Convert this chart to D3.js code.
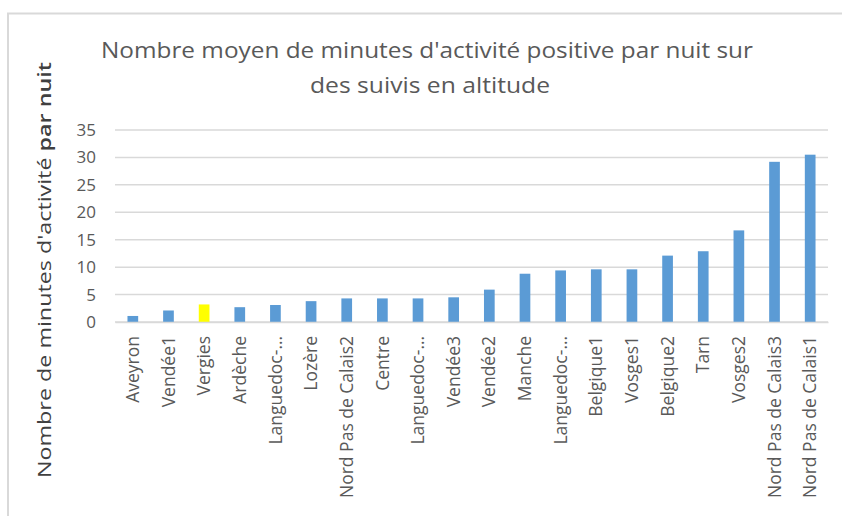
<!DOCTYPE html>
<meta charset="utf-8">
<style>
  body { margin: 0; background: #fff; }
  text { font-family: "Open Sans", "Noto Sans", sans-serif; fill: #595959; }
</style>
<svg width="842" height="516"></svg>
<script src="https://d3js.org/d3.v7.min.js"></script>
<script>

var sites = ["Aveyron", "Vendée1", "Vergies", "Ardèche", "Languedoc-…", "Lozère",
  "Nord Pas de Calais2", "Centre", "Languedoc-…", "Vendée3", "Vendée2", "Manche",
  "Languedoc-…", "Belgique1", "Vosges1", "Belgique2", "Tarn", "Vosges2",
  "Nord Pas de Calais3", "Nord Pas de Calais1"];
var minutes = [1.1, 2.1, 3.2, 2.7, 3.1, 3.8, 4.3, 4.3, 4.3, 4.5, 5.9, 8.8,
  9.4, 9.6, 9.6, 12.1, 12.9, 16.7, 29.2, 30.5];
var highlight = "Vergies";
var yTicks = [0, 5, 10, 15, 20, 25, 30, 35];

var data = sites.map(function(s, i) { return {key: i, name: s, value: minutes[i]}; });

var svg = d3.select("svg"),
    margin = {top: 130, right: 14, bottom: 194, left: 115},
    width = +svg.attr("width") - margin.left - margin.right,
    height = +svg.attr("height") - margin.top - margin.bottom;

// chart area border (top and left edges only visible)
svg.append("path")
    .attr("d", "M8,516 V13.5 H842")
    .style("fill", "none")
    .style("stroke", "#d9d9d9")
    .style("stroke-width", 2);

var x = d3.scaleBand().domain(d3.range(data.length)).range([0, width]).paddingInner(0.7).paddingOuter(0.35);
var y = d3.scaleLinear().domain([0, 35]).range([height, 0]);

var g = svg.append("g").attr("transform", "translate(" + margin.left + "," + margin.top + ")");

// gridlines
g.append("g")
    .selectAll("line")
    .data(yTicks)
    .enter().append("line")
    .attr("x1", 0)
    .attr("x2", width)
    .attr("y1", function(d) { return y(d); })
    .attr("y2", function(d) { return y(d); })
    .style("stroke", "#d9d9d9")
    .style("stroke-width", 1.5);

var yAxis = g.append("g")
    .call(d3.axisLeft(y).tickValues(yTicks).tickSize(0).tickPadding(19));
yAxis.select(".domain").remove();
yAxis.selectAll("text")
    .style("font-size", "17px")
    .style("fill", "#595959")
    .style("font-family", "\"Open Sans\", sans-serif");

g.selectAll(".bar")
    .data(data)
    .enter().append("rect")
    .attr("class", "bar")
    .attr("x", function(d) { return x(d.key); })
    .attr("width", x.bandwidth())
    .attr("y", function(d) { return y(d.value); })
    .attr("height", function(d) { return height - y(d.value); })
    .style("fill", function(d) { return d.name === highlight ? "#ffff00" : "#5b9bd5"; });

var xAxis = g.append("g")
    .attr("transform", "translate(0," + height + ")")
    .call(d3.axisBottom(x).tickSize(0).tickFormat(function(i) { return sites[i]; }));
xAxis.select(".domain").style("stroke", "#d9d9d9").style("stroke-width", 1.5);
xAxis.selectAll("text")
    .attr("transform", "rotate(-90)")
    .attr("x", -14)
    .attr("y", 0)
    .attr("dy", "0.35em")
    .style("text-anchor", "end")
    .style("font-size", "17.5px")
    .style("fill", "#595959")
    .style("font-family", "\"Open Sans\", sans-serif");

// title
var title = svg.append("text")
    .attr("text-anchor", "middle")
    .style("font-size", "21px")
    .style("fill", "#595959");
title.append("tspan").attr("x", 427).attr("y", 58)
    .attr("textLength", 652).attr("lengthAdjust", "spacingAndGlyphs")
    .text("Nombre moyen de minutes d'activité positive par nuit sur");
title.append("tspan").attr("x", 430).attr("y", 93)
    .attr("textLength", 240).attr("lengthAdjust", "spacingAndGlyphs")
    .text("des suivis en altitude");

// y axis title
var yTitle = svg.append("text")
    .attr("transform", "translate(51,270) rotate(-90)")
    .attr("text-anchor", "middle")
    .attr("textLength", 416).attr("lengthAdjust", "spacingAndGlyphs")
    .style("font-size", "18px")
    .style("fill", "#404040");
yTitle.append("tspan").text("Nombre de minutes d'activité ");
yTitle.append("tspan").style("font-weight", "600").text("par nuit");

</script>
